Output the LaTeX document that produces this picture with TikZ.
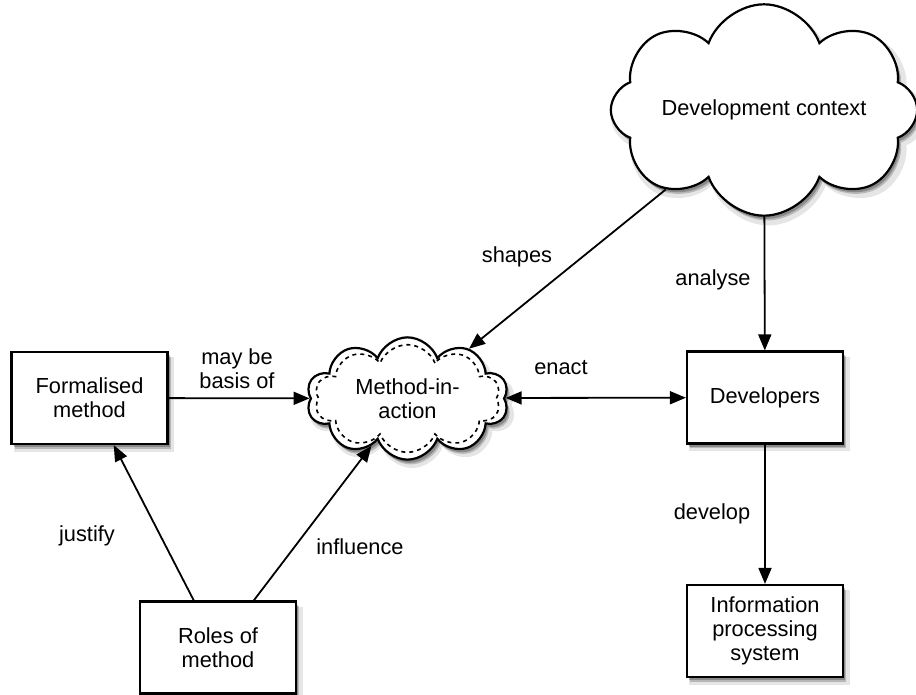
\documentclass[tikz,border=0pt]{standalone}
\usepackage{fontspec}
\setmainfont{Liberation Sans}
\usetikzlibrary{shapes.symbols,shadows,arrows.meta}

\tikzset{
  softshadow/.style={
    general shadow={shadow xshift=2.2pt,shadow yshift=-3.2pt,opacity=.10,fill=black,shadow scale=1.03},
    general shadow={shadow xshift=1.6pt,shadow yshift=-2.4pt,opacity=.20,fill=black},
    general shadow={shadow xshift=1pt,shadow yshift=-1.6pt,opacity=.25,fill=black}},
  box/.style={draw,fill=white,line width=1.1pt,softshadow,
    minimum width=78pt,minimum height=46pt,align=center,inner sep=2pt},
  puffshape/.style={cloud,cloud puffs=8,cloud puff arc=140,aspect=2,
    align=center,inner sep=0pt},
  miashape/.style={puffshape,cloud puffs=10,shape border rotate=18,aspect=1.55},
  puff/.style={draw,fill=white,line width=1.1pt,softshadow},
  link/.style={-{Triangle[length=8pt,width=6.5pt]}},
  lbl/.style={align=center,inner sep=1pt}
}

\begin{document}
\begin{tikzpicture}[x=0.5pt,y=-0.5pt,line width=0.9pt,
    font=\fontsize{10.9}{12}\selectfont]

  \useasboundingbox (0,0) rectangle (916,695);

  % nodes
  \node[box] (formal) at (89.5,398) {Formalised\\method};
  \node[box] (devs) at (765,397.5) {Developers};
  \node[box] (roles) at (218,647.5) {Roles of\\method};
  \node[box] (info) at (765,631) {Information\\processing\\system};

  \node[puffshape,puff,minimum width=150pt,minimum height=60pt] (ctx) at (764,110)
    {Development context};

  \node[miashape,puff,minimum width=101pt,minimum height=40pt] (mia) at (407.5,398.5)
    {Method-in-\\action};
  \node[miashape,draw,line width=0.8pt,dash pattern=on 2pt off 2pt,
    minimum width=101pt,minimum height=40pt,transform shape,
    xscale=0.92,yscale=0.88]
    (mia-in) at (mia.center) {\phantom{Method-in-}\\\phantom{action}};

  % connectors
  \draw[link] (formal) -- (mia);
  \draw[{Triangle[length=8pt,width=6.5pt]}-{Triangle[length=8pt,width=6.5pt]}]
    (mia) -- (devs);
  \draw[link] (ctx) -- (mia);
  \draw[link] (ctx) -- (devs);
  \draw[link] (devs) -- (info);
  \draw[link] (roles) -- (formal);
  \draw[link] (roles) -- (mia);

  % labels
  \node[lbl] (l-basis) at (237,369) {may be\\basis of};
  \node[lbl] (l-enact) at (561,368) {enact};
  \node[lbl] (l-shapes) at (517,257) {shapes};
  \node[lbl] (l-analyse) at (713,280) {analyse};
  \node[lbl] (l-develop) at (712,514) {develop};
  \node[lbl] (l-justify) at (87,536) {justify};
  \node[lbl] (l-influence) at (360,547) {influence};

\end{tikzpicture}
\end{document}
